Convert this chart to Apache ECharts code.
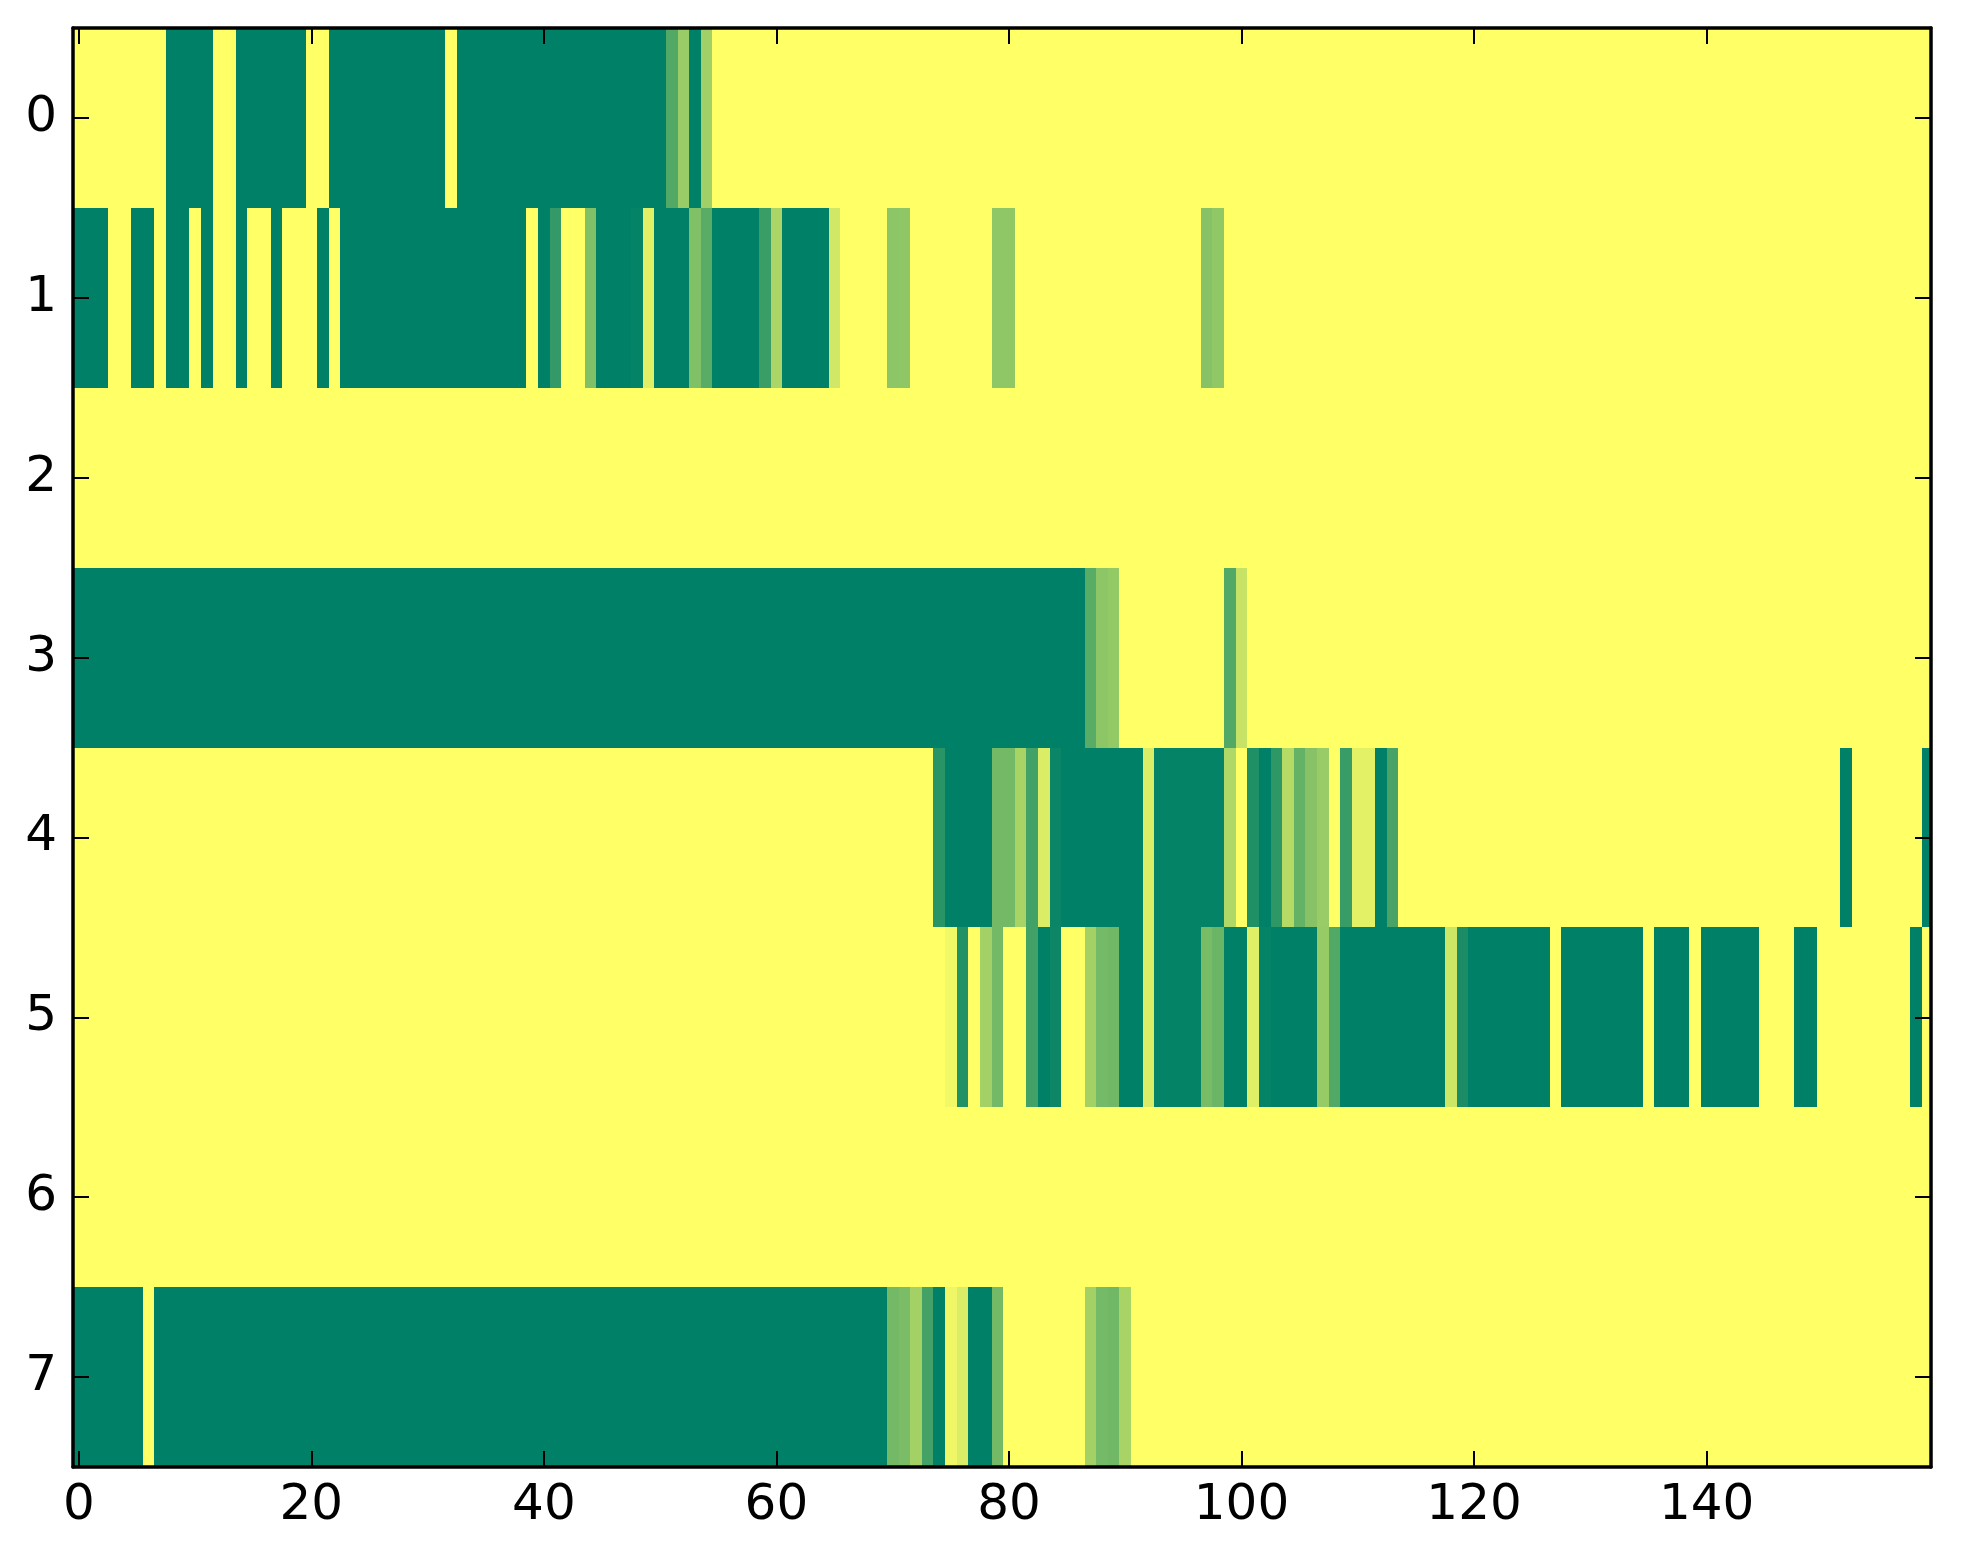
<!DOCTYPE html>
<html>
<head>
<meta charset="utf-8">
<script src="https://cdn.jsdelivr.net/npm/echarts@6/dist/echarts.min.js"></script>
<style>
html,body{margin:0;padding:0;background:#fff;}
#chart{width:1963px;height:1564px;}
</style>
</head>
<body>
<div id="chart"></div>
<script>
const xTicks = [0, 20, 40, 60, 80, 100, 120, 140];
const yTicks = [0, 1, 2, 3, 4, 5, 6, 7];

const row0 = [
  1,1,1,1,1,1,1,1,0,0,
  0,0,1,1,0,0,0,0,0,0,
  1,1,0,0,0,0,0,0,0,0,
  0,0,1,0,0,0,0,0,0,0,
  0,0,0,0,0,0,0,0,0,0,
  0,0.32,0.6,0,0.63,1,1,1,1,1,
  1,1,1,1,1,1,1,1,1,1,
  1,1,1,1,1,1,1,1,1,1,
  1,1,1,1,1,1,1,1,1,1,
  1,1,1,1,1,1,1,1,1,1,
  1,1,1,1,1,1,1,1,1,1,
  1,1,1,1,1,1,1,1,1,1,
  1,1,1,1,1,1,1,1,1,1,
  1,1,1,1,1,1,1,1,1,1,
  1,1,1,1,1,1,1,1,1,1,
  1,1,1,1,1,1,1,1,1,1
];
const row1 = [
  0,0,0,1,1,0,0,1,0,0,
  1,0,1,1,0,1,1,0,1,1,
  1,0,1,0,0,0,0,0,0,0,
  0,0,0,0,0,0,0,0,0,1,
  0,0.2,1,1,0.5,0,0,0,0.02,0.88,
  0,0,0,0.5,0.35,0,0,0,0,0.23,
  0.67,0,0,0,0,0.82,1,1,1,1,
  0.55,0.56,1,1,1,1,1,1,1,0.56,
  0.56,1,1,1,1,1,1,1,1,1,
  1,1,1,1,1,1,1,0.53,0.57,1,
  1,1,1,1,1,1,1,1,1,1,
  1,1,1,1,1,1,1,1,1,1,
  1,1,1,1,1,1,1,1,1,1,
  1,1,1,1,1,1,1,1,1,1,
  1,1,1,1,1,1,1,1,1,1,
  1,1,1,1,1,1,1,1,1,1
];
const row2 = [
  1,1,1,1,1,1,1,1,1,1,
  1,1,1,1,1,1,1,1,1,1,
  1,1,1,1,1,1,1,1,1,1,
  1,1,1,1,1,1,1,1,1,1,
  1,1,1,1,1,1,1,1,1,1,
  1,1,1,1,1,1,1,1,1,1,
  1,1,1,1,1,1,1,1,1,1,
  1,1,1,1,1,1,1,1,1,1,
  1,1,1,1,1,1,1,1,1,1,
  1,1,1,1,1,1,1,1,1,1,
  1,1,1,1,1,1,1,1,1,1,
  1,1,1,1,1,1,1,1,1,1,
  1,1,1,1,1,1,1,1,1,1,
  1,1,1,1,1,1,1,1,1,1,
  1,1,1,1,1,1,1,1,1,1,
  1,1,1,1,1,1,1,1,1,1
];
const row3 = [
  0,0,0,0,0,0,0,0,0,0,
  0,0,0,0,0,0,0,0,0,0,
  0,0,0,0,0,0,0,0,0,0,
  0,0,0,0,0,0,0,0,0,0,
  0,0,0,0,0,0,0,0,0,0,
  0,0,0,0,0,0,0,0,0,0,
  0,0,0,0,0,0,0,0,0,0,
  0,0,0,0,0,0,0,0,0,0,
  0,0,0,0,0,0,0,0.35,0.55,0.58,
  1,1,1,1,1,1,1,1,1,0.32,
  0.78,1,1,1,1,1,1,1,1,1,
  1,1,1,1,1,1,1,1,1,1,
  1,1,1,1,1,1,1,1,1,1,
  1,1,1,1,1,1,1,1,1,1,
  1,1,1,1,1,1,1,1,1,1,
  1,1,1,1,1,1,1,1,1,1
];
const row4 = [
  1,1,1,1,1,1,1,1,1,1,
  1,1,1,1,1,1,1,1,1,1,
  1,1,1,1,1,1,1,1,1,1,
  1,1,1,1,1,1,1,1,1,1,
  1,1,1,1,1,1,1,1,1,1,
  1,1,1,1,1,1,1,1,1,1,
  1,1,1,1,1,1,1,1,1,1,
  1,1,1,1,0.16,0,0,0,0,0.45,
  0.45,0.66,0.26,0.86,0.04,0,0,0,0,0,
  0,0,0.86,0.02,0.02,0.02,0.02,0.02,0.02,0.69,
  1,0.12,0,0.18,0.71,0.39,0.53,0.6,1,0.22,
  0.89,0.89,0,0.28,1,1,1,1,1,1,
  1,1,1,1,1,1,1,1,1,1,
  1,1,1,1,1,1,1,1,1,1,
  1,1,1,1,1,1,1,1,1,1,
  1,1,0,1,1,1,1,1,1,0
];
const row5 = [
  1,1,1,1,1,1,1,1,1,1,
  1,1,1,1,1,1,1,1,1,1,
  1,1,1,1,1,1,1,1,1,1,
  1,1,1,1,1,1,1,1,1,1,
  1,1,1,1,1,1,1,1,1,1,
  1,1,1,1,1,1,1,1,1,1,
  1,1,1,1,1,1,1,1,1,1,
  1,1,1,1,1,0.95,0.13,1,0.64,0.45,
  1,1,0.26,0,0.05,1,1,0.64,0.46,0.44,
  0,0,0.86,0.02,0.02,0.02,0.02,0.47,0.42,0,
  0,0.88,0.02,0,0,0,0,0.59,0.32,0,
  0,0,0,0,0,0,0,0,0.8,0.1,
  0,0,0,0,0,0,0,1,0,0,
  0,0,0,0,0,1,0,0,0,1,
  0,0,0,0,0,1,1,1,0,0,
  1,1,1,1,1,1,1,1,0,1
];
const row6 = [
  1,1,1,1,1,1,1,1,1,1,
  1,1,1,1,1,1,1,1,1,1,
  1,1,1,1,1,1,1,1,1,1,
  1,1,1,1,1,1,1,1,1,1,
  1,1,1,1,1,1,1,1,1,1,
  1,1,1,1,1,1,1,1,1,1,
  1,1,1,1,1,1,1,1,1,1,
  1,1,1,1,1,1,1,1,1,1,
  1,1,1,1,1,1,1,1,1,1,
  1,1,1,1,1,1,1,1,1,1,
  1,1,1,1,1,1,1,1,1,1,
  1,1,1,1,1,1,1,1,1,1,
  1,1,1,1,1,1,1,1,1,1,
  1,1,1,1,1,1,1,1,1,1,
  1,1,1,1,1,1,1,1,1,1,
  1,1,1,1,1,1,1,1,1,1
];
const row7 = [
  0,0,0,0,0,0,1,0,0,0,
  0,0,0,0,0,0,0,0,0,0,
  0,0,0,0,0,0,0,0,0,0,
  0,0,0,0,0,0,0,0,0,0,
  0,0,0,0,0,0,0,0,0,0,
  0,0,0,0,0,0,0,0,0,0,
  0,0,0,0,0,0,0,0,0,0,
  0.45,0.48,0.64,0.27,0,0.94,0.86,0,0,0.45,
  1,1,1,1,1,1,1,0.64,0.46,0.44,
  0.66,1,1,1,1,1,1,1,1,1,
  1,1,1,1,1,1,1,1,1,1,
  1,1,1,1,1,1,1,1,1,1,
  1,1,1,1,1,1,1,1,1,1,
  1,1,1,1,1,1,1,1,1,1,
  1,1,1,1,1,1,1,1,1,1,
  1,1,1,1,1,1,1,1,1,1
];

const rows = [row0, row1, row2, row3, row4, row5, row6, row7];
const cells = [];
rows.forEach(function (row, r) {
  row.forEach(function (v, c) { cells.push([c, r, v]); });
});

const chart = echarts.init(document.getElementById('chart'), null, {renderer: 'canvas'});
const FONT = 'DejaVu Sans';
const lineStyle = {color: '#000', width: 3.5};
const tickStyle = {color: '#000', width: 2};

function xAxisDef(pos, showLabel) {
  return {
    type: 'value', position: pos, min: -0.5, max: 159.3, z: 10,
    axisLine: {show: true, onZero: false, lineStyle: lineStyle},
    axisTick: {show: true, inside: true, length: 16, lineStyle: tickStyle, customValues: xTicks},
    axisLabel: {show: showLabel, customValues: xTicks, fontFamily: FONT, fontSize: 50, color: '#000', margin: 14},
    splitLine: {show: false}
  };
}
function yAxisDef(pos, showLabel) {
  return {
    type: 'value', position: pos, min: -0.5, max: 7.5, inverse: true, z: 10,
    axisLine: {show: true, onZero: false, lineStyle: lineStyle},
    axisTick: {show: true, inside: true, length: 16, lineStyle: tickStyle, customValues: yTicks},
    axisLabel: {show: showLabel, customValues: yTicks, fontFamily: FONT, fontSize: 50, color: '#000', margin: 16},
    splitLine: {show: false}
  };
}

chart.setOption({
  animation: false,
  backgroundColor: '#ffffff',
  grid: {left: 73, top: 28, right: 32, bottom: 97, outerBoundsMode: 'none', containLabel: false},
  xAxis: [xAxisDef('bottom', true), xAxisDef('top', false)],
  yAxis: [yAxisDef('left', true), yAxisDef('right', false)],
  visualMap: {
    show: false, type: 'continuous', min: 0, max: 1, dimension: 2, seriesIndex: 0,
    inRange: {color: ['#008066', '#ffff66']}
  },
  series: [{
    type: 'custom',
    xAxisIndex: 0, yAxisIndex: 0,
    clip: true,
    data: cells,
    encode: {x: 0, y: 1},
    renderItem: function (params, api) {
      const x = api.value(0), y = api.value(1);
      const p0 = api.coord([x - 0.5, y - 0.5]);
      const p1 = api.coord([x + 0.5, y + 0.5]);
      const cs = params.coordSys;
      let x0 = Math.round(Math.min(p0[0], p1[0]));
      let x1 = Math.round(Math.max(p0[0], p1[0]));
      let y0 = Math.round(Math.min(p0[1], p1[1]));
      let y1 = Math.round(Math.max(p0[1], p1[1]));
      x0 = Math.max(x0, cs.x); x1 = Math.min(x1, cs.x + cs.width);
      y0 = Math.max(y0, cs.y); y1 = Math.min(y1, cs.y + cs.height);
      if (x1 <= x0 || y1 <= y0) return null;
      return {
        type: 'rect',
        shape: {x: x0, y: y0, width: x1 - x0, height: y1 - y0},
        style: {fill: api.visual('color')}
      };
    }
  }]
});
</script>
</body>
</html>
